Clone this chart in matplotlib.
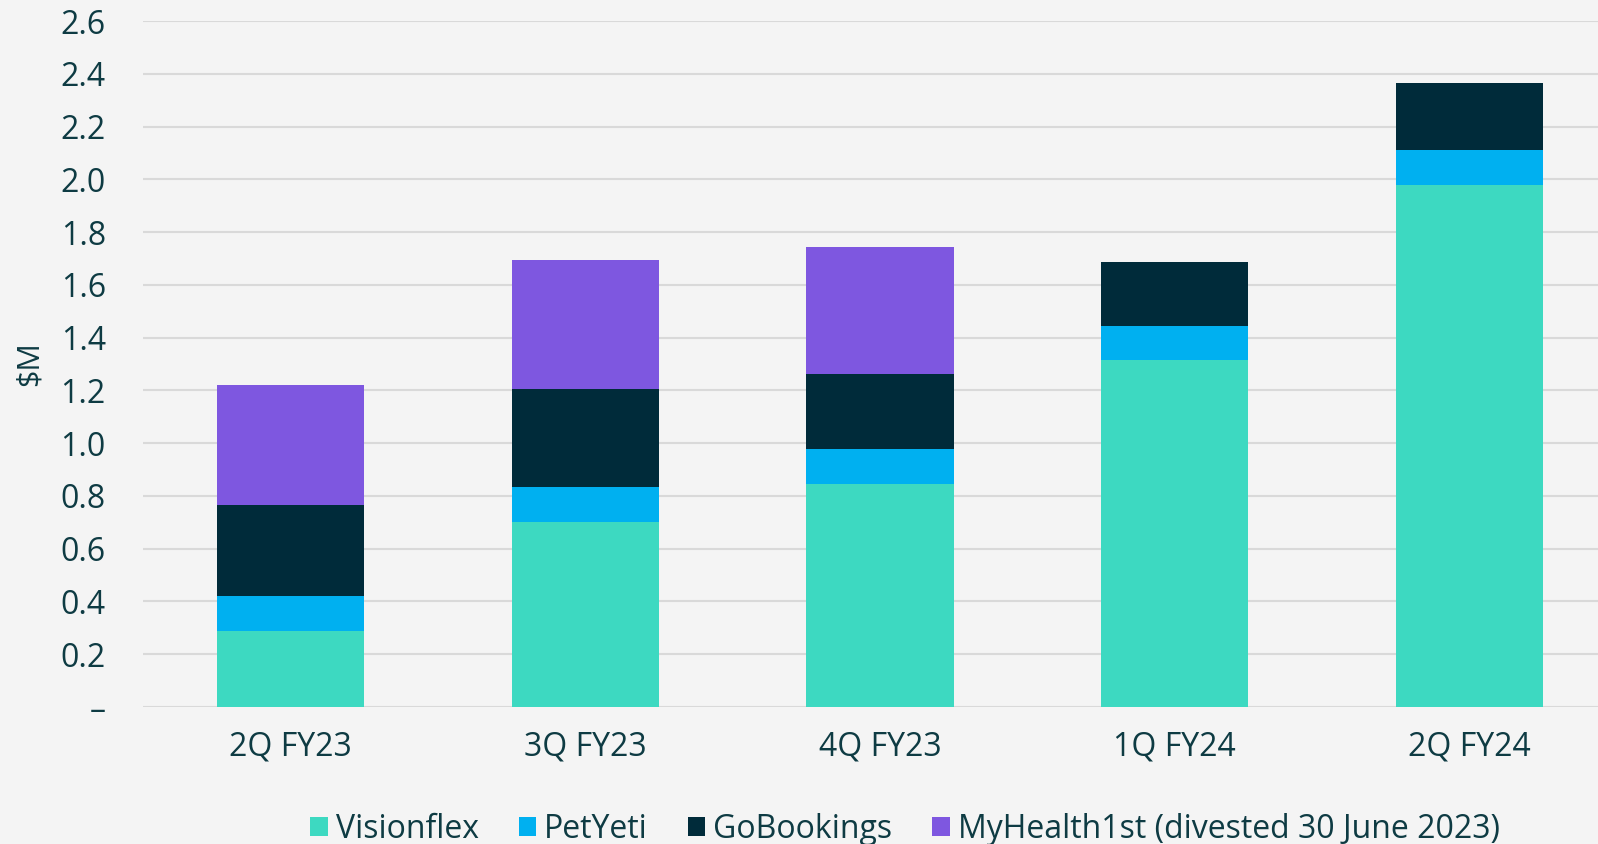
import numpy as np
import matplotlib.pyplot as plt

# quarters and revenue by business ($M)
quarters = ['2Q FY23', '3Q FY23', '4Q FY23', '1Q FY24', '2Q FY24']
visionflex = [0.29, 0.70, 0.845, 1.315, 1.98]
petyeti = [0.13, 0.135, 0.133, 0.128, 0.13]
gobookings = [0.345, 0.37, 0.285, 0.243, 0.255]
myhealth = [0.456, 0.488, 0.482, 0.0, 0.0]

series_names = ['Visionflex', 'PetYeti', 'GoBookings', 'MyHealth1st (divested 30 June 2023)']
colors = ['#3DD9C1', '#00B0F0', '#002B3A', '#7E57E0']
yticks = [0, 0.2, 0.4, 0.6, 0.8, 1.0, 1.2, 1.4, 1.6, 1.8, 2.0, 2.2, 2.4, 2.6]

TEXT = '#0E3B43'
BG = '#F4F4F4'

plt.rcParams['font.family'] = ['Open Sans', 'DejaVu Sans']

fig = plt.figure(figsize=(15.98, 8.44), dpi=100, facecolor=BG)
ax = fig.add_axes([0.0897, 0.1623, 0.922, 0.8128], facecolor=BG)

x = np.arange(len(quarters))
bottom = np.zeros(len(quarters))
for vals, name, c in zip([visionflex, petyeti, gobookings, myhealth], series_names, colors):
    ax.bar(x, vals, width=0.5, bottom=bottom, color=c, label=name, zorder=3)
    bottom += np.array(vals)

ax.set_xlim(-0.5, len(quarters) - 0.5)
ax.set_ylim(0, 2.6)
ax.set_yticks(yticks)
ax.set_yticklabels(['–'] + [f'{v:.1f}' for v in yticks[1:]])
ax.set_xticks(x)
ax.set_xticklabels(quarters)
ax.tick_params(axis='y', length=0, pad=27, labelsize=23, labelcolor=TEXT)
ax.tick_params(axis='x', length=0, pad=17, labelsize=23, labelcolor=TEXT)

ax.grid(axis='y', color='#D9D9D9', linewidth=1.5, zorder=0)
for s in ax.spines.values():
    s.set_visible(False)

ax.set_ylabel('$M', fontsize=22, color=TEXT)
ax.yaxis.set_label_coords(-0.067, 0.5)

fig.legend(loc='center', bbox_to_anchor=(905 / 1598, 1 - 829 / 844), ncol=4,
           frameon=False, fontsize=23, labelcolor=TEXT,
           handlelength=0.55, handleheight=0.55, handletextpad=0.25, columnspacing=1.25)

fig.savefig('out.png', dpi=100, facecolor=BG)
